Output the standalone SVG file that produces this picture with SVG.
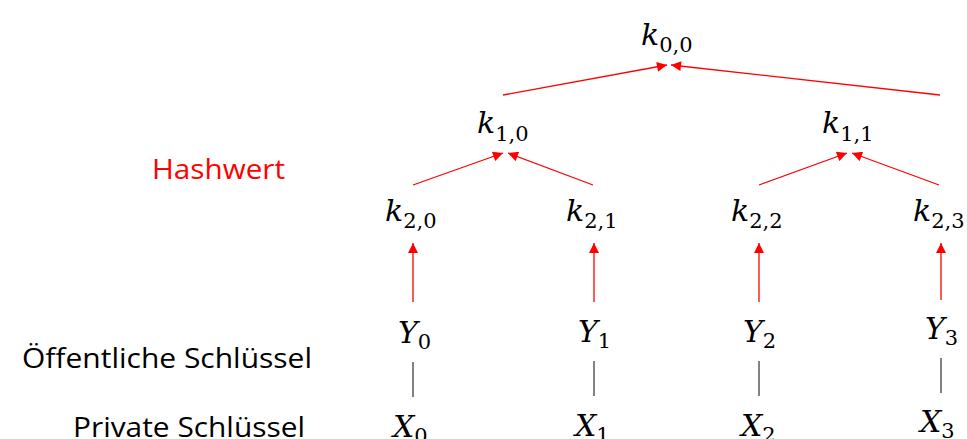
<svg xmlns="http://www.w3.org/2000/svg" width="967" height="439" viewBox="0 0 967 439">
<style>
.m{font-family:"DejaVu Serif","Liberation Serif",serif;font-style:italic;font-size:30px;fill:#000}
.s{font-style:normal;font-size:21px}
.lbl{font-family:"Open Sans","Noto Sans","Liberation Sans",sans-serif;font-size:28px;fill:#000}
.red{stroke:#FF0000;stroke-width:1.3;fill:none}
.gray{stroke:#595959;stroke-width:1.5;fill:none}
</style>
<defs>
<marker id="ah" viewBox="0 0 10 10" refX="10" refY="5" markerWidth="11" markerHeight="10" markerUnits="userSpaceOnUse" orient="auto">
<path d="M0,0 L10,5 L0,10 Z" fill="#FF0000"/>
</marker>
</defs>
<g id="connectors">
<line class="red" x1="503" y1="95" x2="667" y2="65" marker-end="url(#ah)"/>
<line class="red" x1="940" y1="95" x2="671" y2="65" marker-end="url(#ah)"/>
<line class="red" x1="413" y1="185" x2="503" y2="153" marker-end="url(#ah)"/>
<line class="red" x1="593" y1="185" x2="508" y2="153" marker-end="url(#ah)"/>
<line class="red" x1="759" y1="185" x2="847" y2="153" marker-end="url(#ah)"/>
<line class="red" x1="939" y1="185" x2="852" y2="153" marker-end="url(#ah)"/>
<line class="red" x1="413" y1="302" x2="413" y2="243" marker-end="url(#ah)"/>
<line class="red" x1="594" y1="302" x2="594" y2="243" marker-end="url(#ah)"/>
<line class="red" x1="759" y1="302" x2="759" y2="243" marker-end="url(#ah)"/>
<line class="red" x1="941" y1="300" x2="941" y2="243" marker-end="url(#ah)"/>
<line class="gray" x1="413" y1="362" x2="413" y2="397"/>
<line class="gray" x1="594" y1="361" x2="594" y2="396"/>
<line class="gray" x1="759" y1="361" x2="759" y2="396"/>
<line class="gray" x1="941" y1="358" x2="941" y2="393"/>
</g>
<g id="k00"><text class="m" x="641" y="45">k<tspan class="s" dy="7">0,0</tspan></text></g>
<g id="k10"><text class="m" x="477" y="133">k<tspan class="s" dy="8">1,0</tspan></text></g>
<g id="k11"><text class="m" x="822" y="133">k<tspan class="s" dy="8">1,1</tspan></text></g>
<g id="k20"><text class="m" x="385" y="221">k<tspan class="s" dy="7">2,0</tspan></text></g>
<g id="k21"><text class="m" x="566" y="221">k<tspan class="s" dy="7">2,1</tspan></text></g>
<g id="k22"><text class="m" x="731" y="221">k<tspan class="s" dy="7">2,2</tspan></text></g>
<g id="k23"><text class="m" x="913" y="221">k<tspan class="s" dy="7">2,3</tspan></text></g>
<g id="Y0"><text class="m" x="398" y="343">Y<tspan class="s" dy="6">0</tspan></text></g>
<g id="Y1"><text class="m" x="578" y="342">Y<tspan class="s" dy="6">1</tspan></text></g>
<g id="Y2"><text class="m" x="743" y="342">Y<tspan class="s" dy="6">2</tspan></text></g>
<g id="Y3"><text class="m" x="925" y="339">Y<tspan class="s" dy="6">3</tspan></text></g>
<g id="X0"><text class="m" x="393" y="437">X<tspan class="s" dy="6">0</tspan></text></g>
<g id="X1"><text class="m" x="575" y="436">X<tspan class="s" dy="6">1</tspan></text></g>
<g id="X2"><text class="m" x="741" y="436">X<tspan class="s" dy="6">2</tspan></text></g>
<g id="X3"><text class="m" x="920" y="432">X<tspan class="s" dy="6">3</tspan></text></g>
<g id="hashwert"><text class="lbl" x="152" y="179" style="fill:#FF0000" textLength="133" lengthAdjust="spacingAndGlyphs">Hashwert</text></g>
<g id="oeffentlich"><text class="lbl" x="22" y="368" textLength="290" lengthAdjust="spacingAndGlyphs">Öffentliche Schlüssel</text></g>
<g id="privat"><text class="lbl" x="73" y="437" textLength="232" lengthAdjust="spacingAndGlyphs">Private Schlüssel</text></g>
</svg>
